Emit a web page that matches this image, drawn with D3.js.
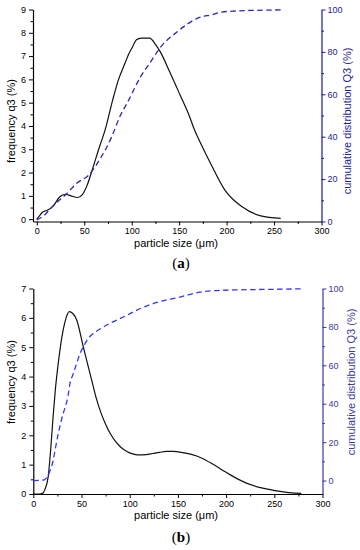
<!DOCTYPE html>
<html><head><meta charset="utf-8">
<script src="https://cdn.jsdelivr.net/npm/d3@7"></script>
<style>
html,body{margin:0;padding:0;background:#fff;}
svg{display:block;}
text{font-family:"Liberation Sans",Arial,sans-serif;}
</style></head>
<body>
<svg id="c" width="360" height="550"></svg>
<script>
// ---------- data (a) ----------
const sizeA = [0,3,6,11,17,24,30,36,43,48,53,59,66,72,80,86,93,97,101,105,110,119,125,130,140,151,160,167,171,183,198,216,236,257];
const freqA = [0,0.15,0.3,0.38,0.55,0.95,1.07,1.0,0.93,1.05,1.45,2.19,3.1,3.83,5.12,5.98,6.7,7.1,7.4,7.7,7.77,7.77,7.5,7.19,6.33,5.33,4.5,3.75,3.4,2.4,1.26,0.54,0.14,0.03];
const cumSizeA = [0,8,17,30,42,55,66,79,88,95,109,121,130,148,169,185,195,210,230,257];
const cumA = [0.7,3,7.3,12.5,18,22,29,40,50,55.7,68,76,82,89.5,95.8,97.6,98.8,99.3,99.6,99.8];
// ---------- data (b) ----------
const sizeB = [0,7,10,12,15.5,18,20.7,23,25.9,31,34,37.3,41,45,51.8,60.5,65,70,75,80,85,90,95,100,105,110,117,124,131,138,145,155,165,175,186,196,204,221,238,256,268,278];
const freqB = [0,0,0.03,0.15,0.6,1.5,2.7,3.6,4.46,5.59,6.0,6.21,6.15,5.93,5.02,3.89,3.3,2.78,2.38,2.05,1.8,1.62,1.49,1.4,1.35,1.33,1.34,1.38,1.42,1.45,1.45,1.41,1.34,1.22,1.02,0.82,0.66,0.37,0.2,0.09,0.04,0.02];
const cumSizeB = [0,11,13,15.5,18,20.7,23,25.9,28,31,33,36,38,41,45,48,51.8,55,58.7,65,72.5,80,89.8,100,107,118,129.5,140,152,163,173,193.5,215,238,278];
const cumB = [0,0.3,1,2.9,6,10.6,17,24.5,29,35,38,44,50.5,55,61,65.5,69.5,72.5,75,77.5,79.9,82,84.3,86.8,88.6,91,92.9,94.3,95.5,97,98.1,99,99.3,99.5,99.8];
// ---------- tick labels ----------
const xTicks = [0,50,100,150,200,250,300];
const xMinor = [25,75,125,175,225,275];
const yTicksA = [0,1,2,3,4,5,6,7,8,9];
const yTicksB = [0,1,2,3,4,5,6,7];
const qTicks = [0,20,40,60,80,100];
const qMinor = [10,30,50,70,90];

const svg = d3.select("#c");
const fmt = d3.format("d");

function panel(cfg){
  const g = svg.append("g");
  const x = d3.scaleLinear().domain(cfg.xDom).range([cfg.left, cfg.right]);
  const y = d3.scaleLinear().domain(cfg.yDom).range([cfg.bottom, cfg.top]);
  const q = d3.scaleLinear().domain(cfg.qDom).range([cfg.bottom, cfg.top]);

  const styleAxis = (sel, color) => {
    sel.select(".domain").attr("stroke", color).attr("stroke-width", 1.2);
    sel.selectAll(".tick line").attr("stroke", color).attr("stroke-width", 1);
    sel.selectAll(".tick text").attr("fill", color).style("font-size", "9px")
      .style("font-family", '"Liberation Sans",Arial,sans-serif');
  };

  const yMinor = d3.range(0.5, cfg.yMax, 1);
  g.append("g").attr("transform", `translate(${cfg.left},0)`)
    .call(d3.axisLeft(y).tickValues(yMinor).tickSize(2.5).tickFormat(""))
    .call(s => { s.select(".domain").remove(); s.selectAll("line").attr("stroke", "#000"); });
  g.append("g").attr("transform", `translate(0,${cfg.bottom})`)
    .call(d3.axisBottom(x).tickValues(xMinor).tickSize(2.5).tickFormat(""))
    .call(s => { s.select(".domain").remove(); s.selectAll("line").attr("stroke", "#000"); });
  g.append("g").attr("transform", `translate(${cfg.right},0)`)
    .call(d3.axisRight(q).tickValues(qMinor).tickSize(2.5).tickFormat(""))
    .call(s => { s.select(".domain").remove(); s.selectAll("line").attr("stroke", cfg.axisBlue); });

  g.append("g").attr("transform", `translate(${cfg.left},0)`)
    .call(d3.axisLeft(y).tickValues(cfg.yTicks).tickFormat(fmt).tickSize(4).tickPadding(3).tickSizeOuter(0))
    .call(s => styleAxis(s, "#000"));
  g.append("g").attr("transform", `translate(0,${cfg.bottom})`)
    .call(d3.axisBottom(x).tickValues(xTicks).tickFormat(fmt).tickSize(4).tickPadding(2.5).tickSizeOuter(0))
    .call(s => styleAxis(s, "#000"));
  g.append("g").attr("transform", `translate(${cfg.right},0)`)
    .call(d3.axisRight(q).tickValues(qTicks).tickFormat(fmt).tickSize(4).tickPadding(2).tickSizeOuter(0))
    .call(s => styleAxis(s, cfg.axisBlue));

  g.append("path").datum(cfg.size.map((v,i)=>[v,cfg.freq[i]]))
    .attr("fill","none").attr("stroke","#111").attr("stroke-width",1.2)
    .attr("d", d3.line().x(d=>x(d[0])).y(d=>y(d[1])).curve(d3.curveMonotoneX));
  g.append("path").datum(cfg.cumSize.map((v,i)=>[v,cfg.cum[i]]))
    .attr("fill","none").attr("stroke",cfg.dashColor).attr("stroke-width",1.3)
    .attr("stroke-dasharray","5.5,3.5")
    .attr("d", d3.line().x(d=>x(d[0])).y(d=>q(d[1])).curve(d3.curveMonotoneX));

  g.append("text").attr("x", 176).attr("y", cfg.bottom + 25)
    .attr("text-anchor","middle").style("font-size","11px").attr("fill","#000")
    .text("particle size (\u03bcm)");
  g.append("text").attr("transform", `translate(${cfg.lx},${cfg.labelCy}) rotate(-90)`)
    .attr("text-anchor","middle").style("font-size","11px").attr("fill","#000")
    .text("frequency q3 (%)");
  g.append("text").attr("transform", `translate(${cfg.rx},${cfg.labelCy}) rotate(-90)`)
    .attr("text-anchor","middle").style("font-size","11px").attr("fill",cfg.axisBlue)
    .text("cumulative distribution Q3 (%)");
  const t = g.append("text").attr("x", 181).attr("y", cfg.capY)
    .attr("text-anchor","middle").style("font-size","15px")
    .style("font-family",'"Liberation Serif","Times New Roman",serif').attr("fill","#000");
  t.append("tspan").text("(");
  t.append("tspan").style("font-weight","bold").text(cfg.cap);
  t.append("tspan").text(")");
}

panel({
  xDom:[-4,300], yDom:[-0.1,9], qDom:[0,100], yMax:9,
  left:33, right:321.5, top:9.5, bottom:221.5,
  yTicks:yTicksA, size:sizeA, freq:freqA, cumSize:cumSizeA, cum:cumA,
  axisBlue:"#1c1ca0", dashColor:"#2828b4",
  lx:15, rx:351, labelCy:121, capY:268, cap:"a"
});
panel({
  xDom:[0,300], yDom:[0,7], qDom:[-7,100], yMax:7,
  left:33.3, right:322.5, top:288.5, bottom:494,
  yTicks:yTicksB, size:sizeB, freq:freqB, cumSize:cumSizeB, cum:cumB,
  axisBlue:"#3a3aa0", dashColor:"#3535ff",
  lx:15, rx:355, labelCy:382, capY:542, cap:"b"
});
</script>
</body></html>
